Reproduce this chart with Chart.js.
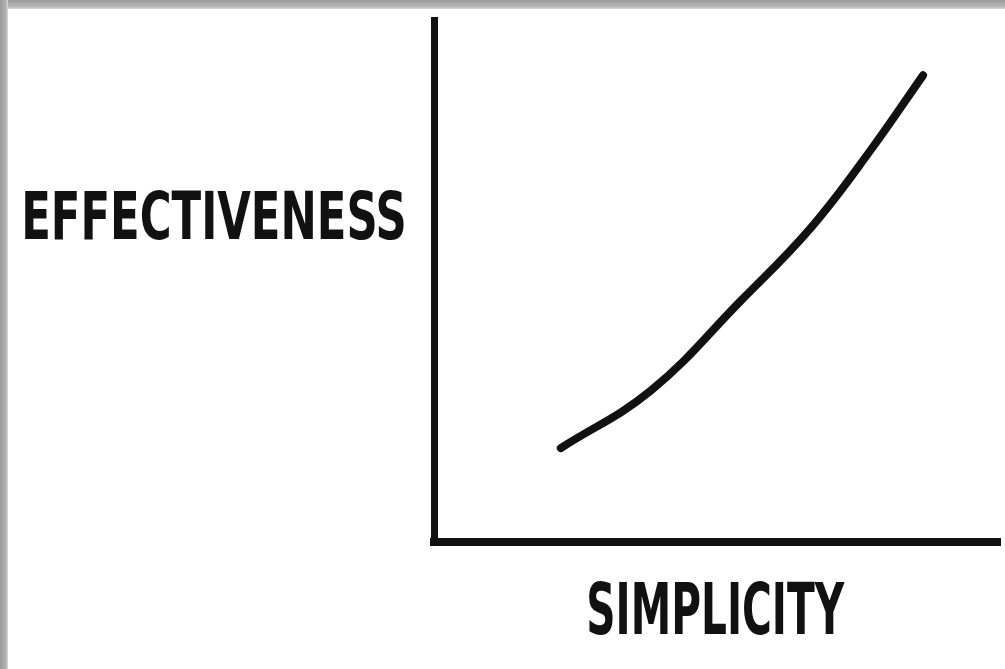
<!DOCTYPE html>
<html>
<head>
<meta charset="utf-8">
<script src="https://cdn.jsdelivr.net/npm/chart.js@4/dist/chart.umd.min.js"></script>
<style>
  html, body { margin: 0; padding: 0; background: #fff; width: 1005px; height: 669px; overflow: hidden; }
  #wrap { position: relative; width: 1005px; height: 669px; }
  /* grey photo edge along top and left */
  #edgeTop { position: absolute; left: 0; top: 0; width: 1005px; height: 9px;
    background: linear-gradient(to bottom, #9c9c9c, #b4b4b4 70%, #d8d8d8); }
  #edgeLeft { position: absolute; left: 0; top: 0; width: 8px; height: 669px;
    background: linear-gradient(to right, #9c9c9c, #b0b0b0 70%, #d8d8d8); }
  canvas { position: absolute; left: 0; top: 0; }
</style>
</head>
<body>
<div id="wrap">
  <div id="edgeTop"></div>
  <div id="edgeLeft"></div>
  <canvas id="sketch" width="1005" height="669"></canvas>
</div>
<script>
// hand-drawn curve (axes run 0..10)
const simplicity = [2.24, 3.83, 5.41, 6.65, 7.71, 8.64];
const effectiveness = [1.80, 2.90, 4.61, 6.01, 7.50, 8.94];
const xLabel = 'SIMPLICITY';
const yLabel = 'EFFECTIVENESS';

const INK = '#111';
const FONT = '"DejaVu Sans Condensed", "DejaVu Sans", sans-serif';

// draw a word stretched into a box, so it looks like marker lettering
const drawFitted = (ctx, text, left, top, width, capHeight) => {
  ctx.save();
  ctx.font = 'bold 100px ' + FONT;
  ctx.textBaseline = 'alphabetic';
  ctx.textAlign = 'left';
  const m = ctx.measureText(text);
  const w = m.actualBoundingBoxRight + m.actualBoundingBoxLeft;
  const h = m.actualBoundingBoxAscent;
  ctx.translate(left, top + capHeight);
  ctx.scale(width / w, capHeight / h);
  ctx.fillStyle = INK;
  ctx.fillText(text, m.actualBoundingBoxLeft, 0);
  ctx.restore();
};

const sketchLabels = {
  id: 'sketchLabels',
  afterDraw(chart) {
    const { ctx, chartArea } = chart;
    const xMid = (chartArea.left + chartArea.right) / 2;
    drawFitted(ctx, yLabel, 25, 189, chartArea.left - 30 - 25, 50);
    drawFitted(ctx, xLabel, xMid - 128, chartArea.bottom + 38, 256, 54);
  },
};

const points = simplicity.map((x, i) => ({ x, y: effectiveness[i] }));

new Chart(document.getElementById('sketch'), {
  type: 'line',
  data: {
    datasets: [
      {
        label: 'Effectiveness',
        data: points,
        borderColor: INK,
        borderWidth: 8,
        borderCapStyle: 'round',
        borderJoinStyle: 'round',
        pointRadius: 0,
        tension: 0.4,
        fill: false,
        clip: false,
      },
    ],
  },
  options: {
    responsive: false,
    animation: false,
    layout: { padding: { left: 426, right: 5, top: 20, bottom: 119 } },
    plugins: {
      legend: { display: false },
      tooltip: { enabled: false },
    },
    scales: {
      x: {
        type: 'linear',
        min: 0,
        max: 10,
        ticks: { display: false },
        grid: { display: false },
        border: { display: true, color: INK, width: 8 },
      },
      y: {
        type: 'linear',
        min: 0,
        max: 10,
        ticks: { display: false },
        grid: { display: false },
        border: { display: true, color: INK, width: 7 },
      },
    },
  },
  plugins: [sketchLabels],
});
</script>
</body>
</html>
